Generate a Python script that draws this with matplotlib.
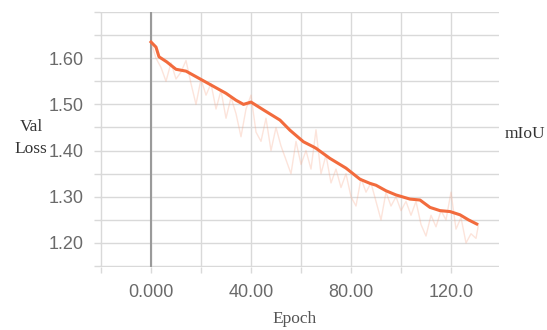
import matplotlib
matplotlib.use("Agg")
import matplotlib.pyplot as plt
from matplotlib.ticker import MultipleLocator, FormatStrFormatter, FixedLocator, FixedFormatter

# smoothed validation loss
smooth_epochs = [0, 2, 3.2, 6.3, 10, 14, 19, 24, 30, 34, 37, 40, 45, 51.6, 55.6, 61, 65, 66,
                 71.6, 78, 83.6, 87.6, 90, 94, 98, 103.6, 107.6, 111.6, 115.6, 119.6, 123.6, 127, 130.3]
smooth_vals = [1.635, 1.624, 1.603, 1.592, 1.576, 1.572, 1.557, 1.542, 1.524, 1.509, 1.500, 1.505,
               1.488, 1.466, 1.444, 1.419, 1.408, 1.405, 1.383, 1.362, 1.338, 1.329, 1.325, 1.313,
               1.304, 1.295, 1.293, 1.277, 1.270, 1.268, 1.261, 1.250, 1.241]

# raw validation loss (estimated from the faint line)
raw_epochs = [0, 2, 4, 6, 8, 10, 12, 14, 16, 18, 20, 22, 24, 26, 28, 30, 32, 34, 36, 38, 40,
              42, 44, 46, 48, 50, 52, 54, 56, 58, 60, 62, 64, 66, 68, 70, 72, 74, 76, 78, 80,
              82, 84, 86, 88, 90, 92, 94, 96, 98, 100, 102, 104, 106, 108, 110, 112, 114, 116,
              118, 120, 122, 124, 126, 128, 130, 131]
raw_vals = [1.635, 1.60, 1.58, 1.55, 1.59, 1.555, 1.57, 1.595, 1.545, 1.50, 1.555, 1.52, 1.545,
            1.49, 1.53, 1.47, 1.515, 1.48, 1.43, 1.49, 1.52, 1.44, 1.42, 1.47, 1.40, 1.45, 1.41,
            1.38, 1.35, 1.42, 1.37, 1.40, 1.36, 1.445, 1.35, 1.39, 1.33, 1.36, 1.32, 1.35, 1.30,
            1.28, 1.34, 1.31, 1.33, 1.29, 1.25, 1.31, 1.28, 1.30, 1.27, 1.29, 1.26, 1.29, 1.24,
            1.215, 1.26, 1.235, 1.27, 1.25, 1.31, 1.23, 1.255, 1.20, 1.22, 1.21, 1.24]

x_ticks = [0, 40, 80, 120]
x_tick_labels = ["0.000", "40.00", "80.00", "120.0"]
y_ticks = [1.20, 1.30, 1.40, 1.50, 1.60]

fig = plt.figure(figsize=(5.47, 3.30), dpi=100)
ax = fig.add_axes([100/547, 1-267/330, 399/547, 255/330])

grid_c = "#d9d9d9"
ax.plot(raw_epochs, raw_vals, color="#f7a688", lw=1.0, alpha=0.3, zorder=3)
ax.plot(smooth_epochs, smooth_vals, color="#f26b3d", lw=2.2, zorder=4)

ax.set_xlim(-20.4, 139.2)
ax.set_ylim(1.148, 1.70)

ax.xaxis.set_major_locator(FixedLocator(x_ticks))
ax.xaxis.set_major_formatter(FixedFormatter(x_tick_labels))
ax.xaxis.set_minor_locator(MultipleLocator(20))
ax.yaxis.set_major_locator(FixedLocator(y_ticks))
ax.yaxis.set_major_formatter(FormatStrFormatter("%.2f"))
ax.yaxis.set_minor_locator(MultipleLocator(0.05))

ax.grid(True, which="both", color=grid_c, lw=1.0, zorder=1)
ax.axvline(0, color="#9a9a9a", lw=1.5, zorder=2)
for s in ax.spines.values():
    s.set_visible(False)
ax.tick_params(which="both", length=4, color=grid_c, width=1.0)
ax.tick_params(axis="both", labelsize=13, labelcolor="#6a6a6a", pad=8)
for lab in ax.get_xticklabels() + ax.get_yticklabels():
    lab.set_family(["Liberation Sans", "DejaVu Sans"])

serif = ["Liberation Serif", "DejaVu Serif"]
fig.text(31/547, 1-138/330, "Val\nLoss", ha="center", va="center", fontsize=12.5,
         family=serif, color="#333333", linespacing=1.5)
fig.text(525/547, 1-134/330, "mIoU", ha="center", va="center", fontsize=12.5,
         family=serif, color="#333333")
fig.text(295/547, 1-319/330, "Epoch", ha="center", va="center", fontsize=12.5,
         family=serif, color="#555555")

fig.savefig("out.png", dpi=100)
